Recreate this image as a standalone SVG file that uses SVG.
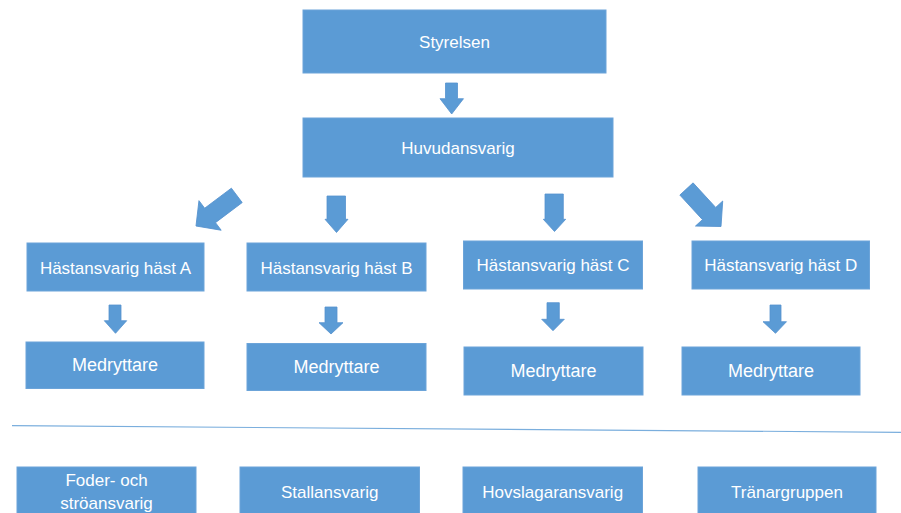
<svg xmlns="http://www.w3.org/2000/svg" width="901" height="513" viewBox="0 0 901 513">
<style>
.box{fill:#5B9BD5;stroke:#6CA4D9;stroke-width:1}
.arr{fill:#5B9BD5;stroke:#5592CE;stroke-width:0.8}
.t{font-family:"Liberation Sans",Arial,sans-serif;font-size:17px;fill:#FFFFFF;text-anchor:middle}
.m{font-size:18px}
</style>
<rect width="901" height="513" fill="#FFFFFF"/>
<g id="styrelsen"><rect class="box" x="303" y="10" width="303" height="63"/><text class="t" x="454.5" y="48">Styrelsen</text></g>
<g id="huvudansvarig"><rect class="box" x="303" y="118" width="310" height="59"/><text class="t" x="458" y="154">Huvudansvarig</text></g>
<g id="hastA"><rect class="box" x="27" y="243" width="177" height="48"/><text class="t" x="115.5" y="273.5">Hästansvarig häst A</text></g>
<g id="hastB"><rect class="box" x="247" y="243" width="179" height="48"/><text class="t" x="336.5" y="273.5">Hästansvarig häst B</text></g>
<g id="hastC"><rect class="box" x="463.5" y="241" width="179" height="48"/><text class="t" x="553" y="271">Hästansvarig häst C</text></g>
<g id="hastD"><rect class="box" x="692" y="241" width="177.5" height="48"/><text class="t" x="780.7" y="271">Hästansvarig häst D</text></g>
<g id="medA"><rect class="box" x="26" y="342" width="178" height="46.5"/><text class="t m" x="115" y="371">Medryttare</text></g>
<g id="medB"><rect class="box" x="247" y="343.5" width="179" height="47"/><text class="t m" x="336.5" y="373">Medryttare</text></g>
<g id="medC"><rect class="box" x="464" y="347" width="179" height="48"/><text class="t m" x="553.5" y="377">Medryttare</text></g>
<g id="medD"><rect class="box" x="682" y="347" width="178" height="48"/><text class="t m" x="771" y="377">Medryttare</text></g>
<g id="foder"><rect class="box" x="17" y="467" width="179" height="50"/><text class="t" x="106.5" y="486">Foder- och</text><text class="t" x="106.5" y="509">ströansvarig</text></g>
<g id="stall"><rect class="box" x="240" y="467" width="179.5" height="50"/><text class="t" x="329.7" y="497.5">Stallansvarig</text></g>
<g id="hovslagare"><rect class="box" x="463" y="467" width="179.5" height="50"/><text class="t" x="552.7" y="497.5">Hovslagaransvarig</text></g>
<g id="tranare"><rect class="box" x="698" y="467" width="178" height="50"/><text class="t" x="787" y="497.5">Tränargruppen</text></g>
<g id="connectors">
<polygon class="arr" points="445.5,83 457.5,83 457.5,98.7 463.5,98.7 451.7,114 440,98.7 445.5,98.7"/>
<polygon class="arr" points="327,196 345.5,196 345.5,219.3 348,219.3 336.5,232.5 325,219.3 327,219.3"/>
<polygon class="arr" points="545,194 563.3,194 563.3,219.3 565.7,219.3 554.5,231.5 543.3,219.3 545,219.3"/>
<polygon class="arr" transform="translate(196,226) rotate(53.1)" points="-9,-51 9,-51 9,-17.6 18.5,-17.6 0,0 -18.5,-17.6 -9,-17.6"/>
<polygon class="arr" transform="translate(721,226.5) rotate(-42.6)" points="-9,-51 9,-51 9,-17.6 18.5,-17.6 0,0 -18.5,-17.6 -9,-17.6"/>
<polygon class="arr" points="109,305 121,305 121,320.7 126.7,320.7 115.5,333.3 104.3,320.7 109,320.7"/>
<polygon class="arr" points="325,307 337,307 337,322.7 343,322.7 331,334 319,322.7 325,322.7"/>
<polygon class="arr" points="547,302.7 559.3,302.7 559.3,319.3 564.3,319.3 553,330.7 541.7,319.3 547,319.3"/>
<polygon class="arr" points="770,305 781,305 781,321.7 786.5,321.7 775.5,333.3 763,321.7 770,321.7"/>
<line x1="12" y1="425.7" x2="901" y2="432.3" stroke="#7AAEDD" stroke-width="1.2"/>
</g>
</svg>
